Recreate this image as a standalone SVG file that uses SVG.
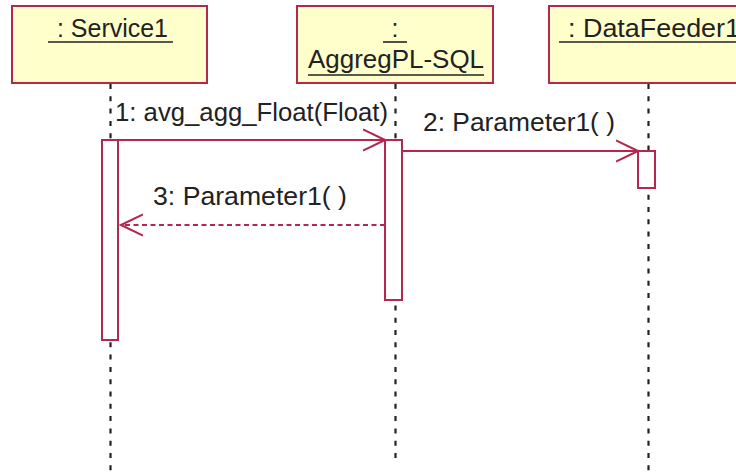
<svg xmlns="http://www.w3.org/2000/svg" width="736" height="474" viewBox="0 0 736 474">
<defs>
<style>
.box{fill:#FFFFCC;stroke:#B4284F;stroke-width:2}
.bar{fill:#FFFFFF;stroke:#B4284F;stroke-width:2}
.life{stroke:#222;stroke-width:2.2;stroke-dasharray:5,7.3;fill:none}
.msg{stroke:#B4284F;stroke-width:2;fill:none}
.ret{stroke:#B4284F;stroke-width:2;fill:none;stroke-dasharray:5,3.5}
.ul{stroke:#222;stroke-width:1.6}
text{font-family:"Liberation Sans",Arial,sans-serif;font-size:25px;fill:#222}
</style>
<marker id="open" viewBox="0 0 24 24" markerWidth="24" markerHeight="24" refX="22" refY="12" orient="auto" markerUnits="userSpaceOnUse">
<path d="M0,1.5 L22,12 L0,22.5" fill="none" stroke="#B4284F" stroke-width="2"/>
</marker>
</defs>
<rect width="736" height="474" fill="#FFFFFF"/>
<g id="lifelines">
<line class="life" x1="110.5" y1="84" x2="110.5" y2="474"/>
<line class="life" x1="395.5" y1="84" x2="395.5" y2="462"/>
<line class="life" x1="648.5" y1="84" x2="648.5" y2="474"/>
</g>
<g id="service1">
<rect class="box" x="12" y="6" width="195" height="77"/>
<text x="57" y="37" textLength="111" lengthAdjust="spacingAndGlyphs">: Service1</text>
<line class="ul" x1="48" y1="42" x2="173" y2="42"/>
</g>
<g id="aggregpl">
<rect class="box" x="297" y="6" width="196" height="77"/>
<text x="395" y="37" text-anchor="middle">:</text>
<line class="ul" x1="383" y1="42" x2="407" y2="42"/>
<text x="308" y="68" textLength="176" lengthAdjust="spacingAndGlyphs">AggregPL-SQL</text>
<line class="ul" x1="308" y1="75" x2="484" y2="75"/>
</g>
<g id="datafeeder1">
<rect class="box" x="549" y="6" width="200" height="77"/>
<text x="568" y="37" textLength="172" lengthAdjust="spacingAndGlyphs">: DataFeeder1</text>
<line class="ul" x1="559" y1="42" x2="740" y2="42"/>
</g>
<g id="activations">
<rect class="bar" x="102" y="140" width="16" height="200"/>
<rect class="bar" x="385" y="140" width="17" height="160"/>
<rect class="bar" x="638" y="151" width="17" height="37"/>
</g>
<g id="connectors">
<line class="msg" x1="118" y1="140" x2="385" y2="140" marker-end="url(#open)"/>
<line class="msg" x1="402" y1="151" x2="638" y2="151" marker-end="url(#open)"/>
<line class="ret" x1="385" y1="225" x2="121" y2="225" marker-end="url(#open)"/>
</g>
<g id="labels">
<text x="115" y="121" textLength="273" lengthAdjust="spacingAndGlyphs">1: avg_agg_Float(Float)</text>
<text x="423" y="131" textLength="192" lengthAdjust="spacingAndGlyphs">2: Parameter1( )</text>
<text x="153" y="205" textLength="194" lengthAdjust="spacingAndGlyphs">3: Parameter1( )</text>
</g>
</svg>
